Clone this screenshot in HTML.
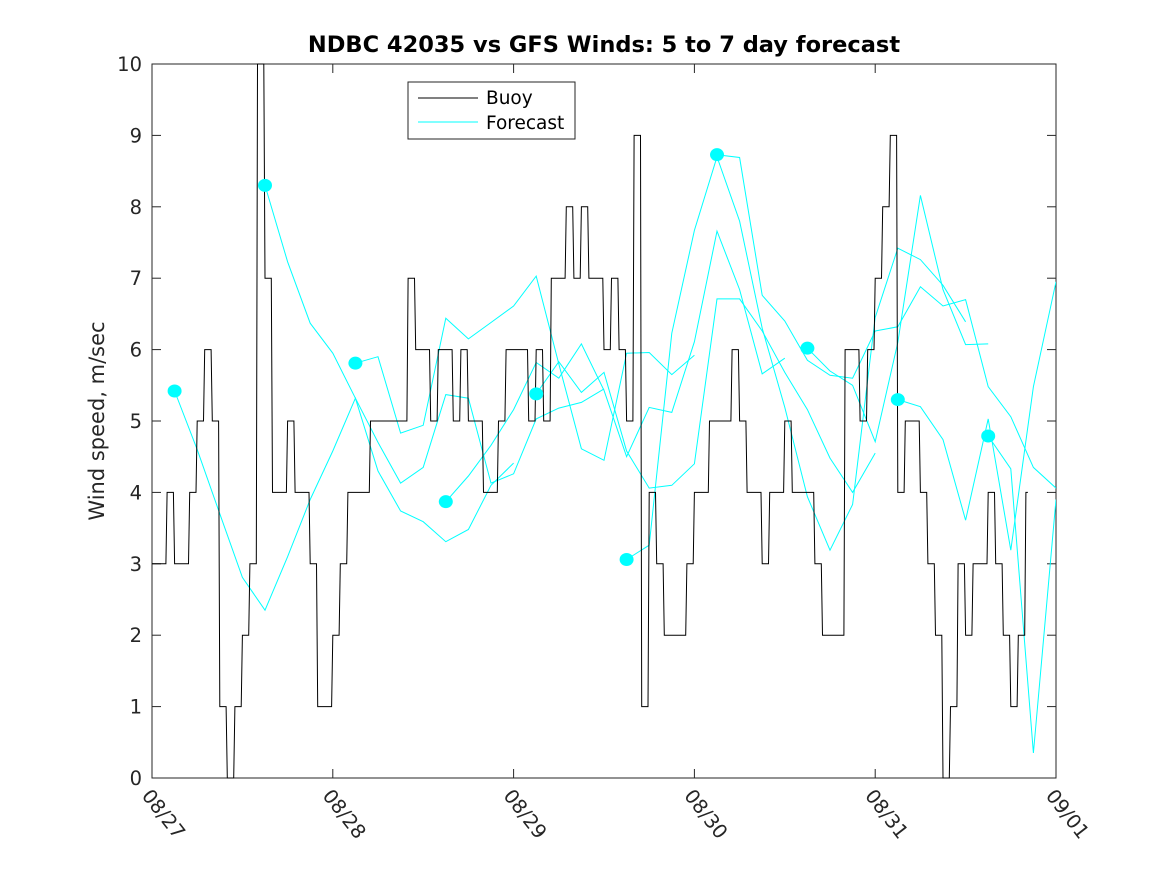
<!DOCTYPE html>
<html><head><meta charset="utf-8"><style>
html,body{margin:0;padding:0;background:#fff;}
svg{display:block;font-family:"DejaVu Sans","Liberation Sans",sans-serif;}
</style></head><body>
<svg id="chart" width="1167" height="875" viewBox="0 0 1167 875" xmlns="http://www.w3.org/2000/svg">
<rect x="0" y="0" width="1167" height="875" fill="#fff"/>
<text x="604" y="52" text-anchor="middle" font-size="22.5" font-weight="bold" fill="#000">NDBC 42035 vs GFS Winds: 5 to 7 day forecast</text>
<text transform="translate(104,421) rotate(-90)" text-anchor="middle" font-size="21" fill="#262626">Wind speed, m/sec</text>
<g id="axes"></g>
<g id="series"></g>
<g id="legend">
<rect x="408" y="82" width="167" height="57" fill="#fff" stroke="#262626" stroke-width="1"/>
<line x1="418" y1="98" x2="478" y2="98" stroke="#000" stroke-width="1"/>
<text x="486" y="104" font-size="18.5" fill="#000">Buoy</text>
<line x1="418" y1="122" x2="478" y2="122" stroke="#00ffff" stroke-width="1"/>
<text x="486" y="129" font-size="18.5" fill="#000">Forecast</text>
</g>
</svg>
<script>
const xTickLabels = ["08/27","08/28","08/29","08/30","08/31","09/01"];
const yTickLabels = ["0","1","2","3","4","5","6","7","8","9","10"];
// buoy hourly wind speed starting 08/27 00:00
const buoyValues = [3,3,4,3,3,4,5,6,5,1,0,1,2,3,10,7,4,4,5,4,4,3,1,1,2,3,4,4,4,5,
5,5,5,5,7,6,6,5,6,6,5,6,5,5,4,4,5,6,6,6,5,6,5,7,7,8,7,8,7,7,
6,7,6,5,9,1,4,3,2,2,2,3,4,4,5,5,5,6,5,4,4,3,4,4,5,4,4,4,3,2,
2,2,6,6,5,6,7,8,9,4,5,5,4,3,2,0,1,3,2,3,3,4,3,2,1,2,4];
// forecast series: start hour, 3-hourly values
const fcStarts = [3,15,27,39,51,63,75,87,99,111];
const fcA = [5.42,4.6,3.7,2.81,2.35,3.1,3.9,4.58,5.32,4.3,3.74,3.59,3.31,3.48,4.1,4.41];
const fcB = [8.3,7.23,6.37,5.95,5.32,4.7,4.13,4.35,5.37,5.32,4.13,4.26,5.03,5.18,5.26,5.45];
const fcC = [5.81,5.9,4.83,4.94,6.44,6.15,6.38,6.61,7.03,5.8,4.61,4.45,5.95,5.96,5.65,5.92];
const fcD = [3.87,4.23,4.66,5.16,5.82,5.6,6.08,5.43,4.5,5.19,5.12,6.11,7.66,6.84,5.66,5.88];
const fcE = [5.38,5.83,5.4,5.68,4.58,4.06,4.1,4.4,6.71,6.71,6.26,5.68,5.16,4.48,4.0,4.55];
const fcF = [3.06,3.26,6.23,7.67,8.7,7.8,6.3,5.19,3.94,3.19,3.83,6.45,7.42,7.26,6.9,6.39];
const fcG = [8.73,8.69,6.76,6.4,5.85,5.64,5.6,6.26,6.32,6.88,6.61,6.7,5.48,5.06,4.35,4.06];
const fcH = [6.02,5.7,5.5,4.71,6.1,8.16,6.84,6.07,6.08];
const fcI = [5.3,5.2,4.74,3.61,5.03,3.19,5.48,6.95];
const fcJ = [4.79,4.33,0.35,3.9];
const fcSeries = [fcA,fcB,fcC,fcD,fcE,fcF,fcG,fcH,fcI,fcJ];

const NS="http://www.w3.org/2000/svg";
const L=152,R=1056,T=64,B=778,HOURS=120;
const xs=h=>L+(R-L)*h/HOURS;
const ys=v=>B-(B-T)*v/10;
function mk(tag,attrs,parent){const e=document.createElementNS(NS,tag);for(const k in attrs)e.setAttribute(k,attrs[k]);parent.appendChild(e);return e;}
const axes=document.getElementById('axes');
const ser=document.getElementById('series');
const box=mk('rect',{x:L,y:T,width:R-L,height:B-T,fill:'none',stroke:'#262626','stroke-width':1},axes);


yTickLabels.forEach((lab,i)=>{
  const y=ys(+lab);
  mk('line',{x1:L,y1:y,x2:L+9,y2:y,stroke:'#262626'},axes);
  mk('line',{x1:R,y1:y,x2:R-9,y2:y,stroke:'#262626'},axes);
  const t=mk('text',{x:142,y:y+7,'text-anchor':'end','font-size':19.5,fill:'#262626'},axes);
  
  
  t.textContent=lab;
});
xTickLabels.forEach((lab,i)=>{
  const x=xs(i*24);
  mk('line',{x1:x,y1:B,x2:x,y2:B-9,stroke:'#262626'},axes);
  mk('line',{x1:x,y1:T,x2:x,y2:T+9,stroke:'#262626'},axes);
  const t=mk('text',{transform:`translate(${x-11},${B+18}) rotate(52)`,'font-size':19.5,fill:'#262626'},axes);
  
  
  t.textContent=lab;
});
const defs=mk('defs',{},ser);
const cp=mk('clipPath',{id:'clip'},defs);
mk('rect',{x:L,y:T,width:R-L,height:B-T},cp);
fcSeries.forEach((vals,k)=>{
  const pts=vals.map((v,i)=>xs(fcStarts[k]+3*i).toFixed(1)+','+ys(v).toFixed(1)).join(' ');
  const p=mk('polyline',{points:pts,fill:'none',stroke:'#00ffff','stroke-width':1,'clip-path':'url(#clip)'},ser);
  
  
});
// buoy as near-step line (quick transitions between hourly values)
const bpts=[];
buoyValues.forEach((v,i)=>{
  const x0=xs(i), x1=(i<buoyValues.length-1)?xs(i+1)-1.2:xs(i)+2;
  bpts.push(x0.toFixed(1)+','+ys(v).toFixed(1));
  bpts.push(x1.toFixed(1)+','+ys(v).toFixed(1));
});
const buoy=mk('polyline',{points:bpts.join(' '),fill:'none',stroke:'#000','stroke-width':1},ser);


fcSeries.forEach((vals,k)=>{
  const c=mk('ellipse',{cx:xs(fcStarts[k]),cy:ys(vals[0]),rx:7,ry:6.5,fill:'#00ffff'},ser);
  
  
});
</script>
</body></html>
